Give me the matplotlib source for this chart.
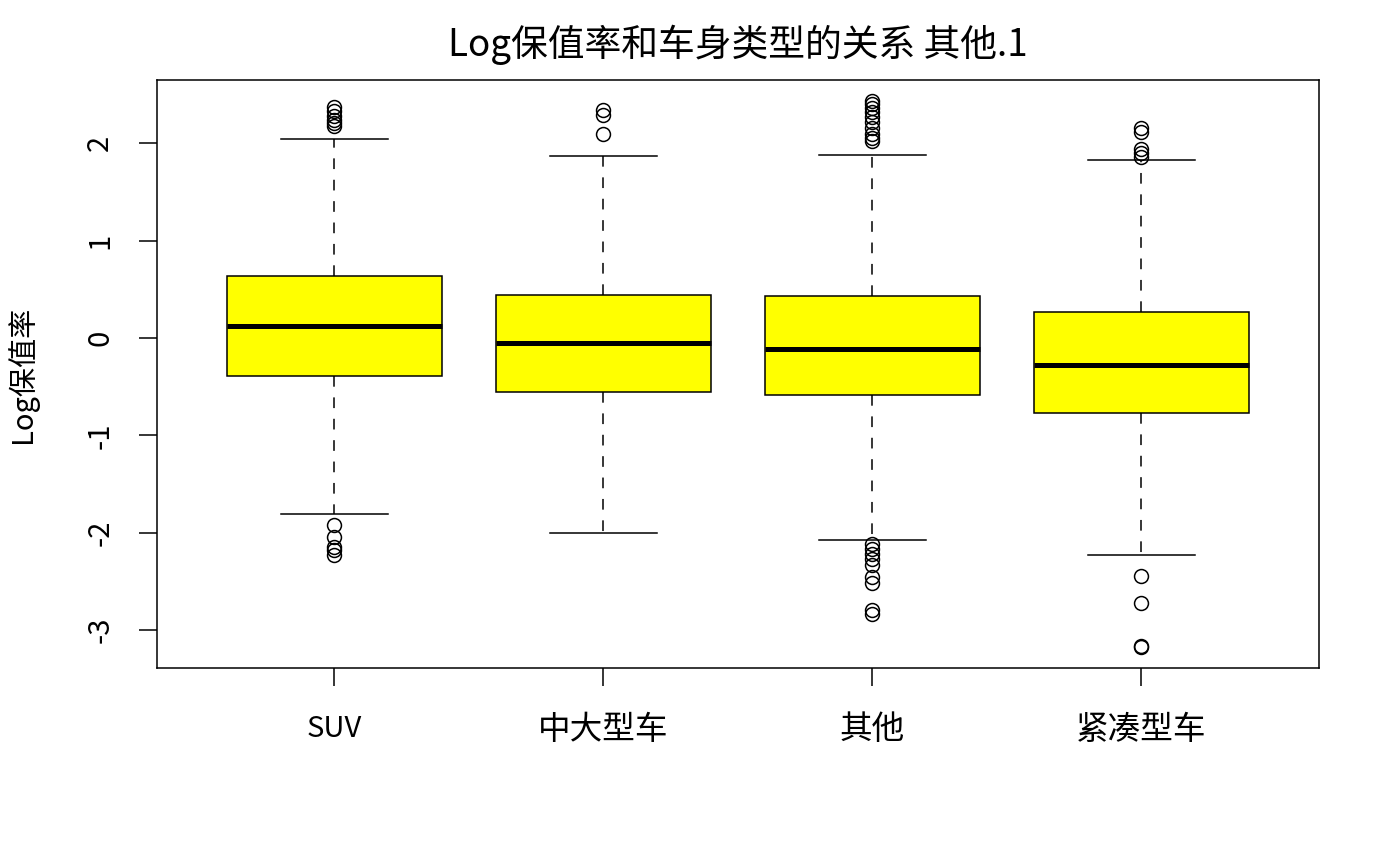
import matplotlib
matplotlib.use("Agg")
import matplotlib.pyplot as plt

plt.rcParams['font.family'] = ['Noto Sans CJK SC', 'DejaVu Sans']

categories = ["SUV", "中大型车", "其他", "紧凑型车"]
q1 = [-0.39, -0.55, -0.585, -0.77]
median = [0.123, -0.05, -0.11, -0.28]
q3 = [0.637, 0.44, 0.43, 0.27]
whisker_low = [-1.81, -2.00, -2.07, -2.23]
whisker_high = [2.04, 1.87, 1.88, 1.83]
outliers = [
    [2.37, 2.33, 2.28, 2.24, 2.21, 2.18, -1.92, -2.04, -2.15, -2.18, -2.23],
    [2.34, 2.29, 2.10],
    [2.43, 2.40, 2.36, 2.32, 2.27, 2.22, 2.16, 2.10, 2.05, 2.02,
     -2.12, -2.17, -2.22, -2.27, -2.33, -2.46, -2.52, -2.79, -2.84],
    [2.16, 2.12, 1.94, 1.90, 1.86, -2.44, -2.72, -3.17, -3.16],
]
yticks = [-3, -2, -1, 0, 1, 2]

stats = []
for i, c in enumerate(categories):
    stats.append(dict(label=c, q1=q1[i], med=median[i], q3=q3[i],
                      whislo=whisker_low[i], whishi=whisker_high[i],
                      fliers=outliers[i]))

fig = plt.figure(figsize=(14, 8.65), dpi=100)
ax = fig.add_axes([0.1121, 0.2277, 0.8300, 0.6798])

lw = 1.1
positions = list(range(1, len(categories) + 1))
ax.bxp(stats, positions=positions, widths=0.8, patch_artist=True,
       boxprops=dict(facecolor='#FFFF00', edgecolor='black', linewidth=lw),
       medianprops=dict(color='black', linewidth=3.6, solid_capstyle='butt'),
       whiskerprops=dict(color='black', linewidth=lw, linestyle=(0, (7, 7))),
       capprops=dict(color='black', linewidth=lw),
       capwidths=0.4,
       flierprops=dict(marker='o', markerfacecolor='none', markeredgecolor='black',
                       markersize=10, markeredgewidth=1.1, linestyle='none'))

ax.set_xlim(0.34, 4.66)
ax.set_ylim(-3.39, 2.65)
ax.set_yticks(yticks)
ax.set_yticklabels([str(t) for t in yticks], rotation=90, va='center')
ax.set_xticks(positions)
ax.set_xticklabels(categories)
ax.tick_params(axis='both', direction='out', length=13, width=lw, labelsize=21)
ax.tick_params(axis='x', pad=20)
ax.tick_params(axis='y', pad=17)
for lab in ax.get_xticklabels():
    if not lab.get_text().isascii():
        lab.set_fontsize(23.5)
for s in ax.spines.values():
    s.set_linewidth(lw)

ax.set_title("Log保值率和车身类型的关系 其他.1", fontsize=26.5, pad=17)
ax.set_ylabel("Log保值率", fontsize=21, labelpad=34)

fig.savefig("out.png", dpi=100)
